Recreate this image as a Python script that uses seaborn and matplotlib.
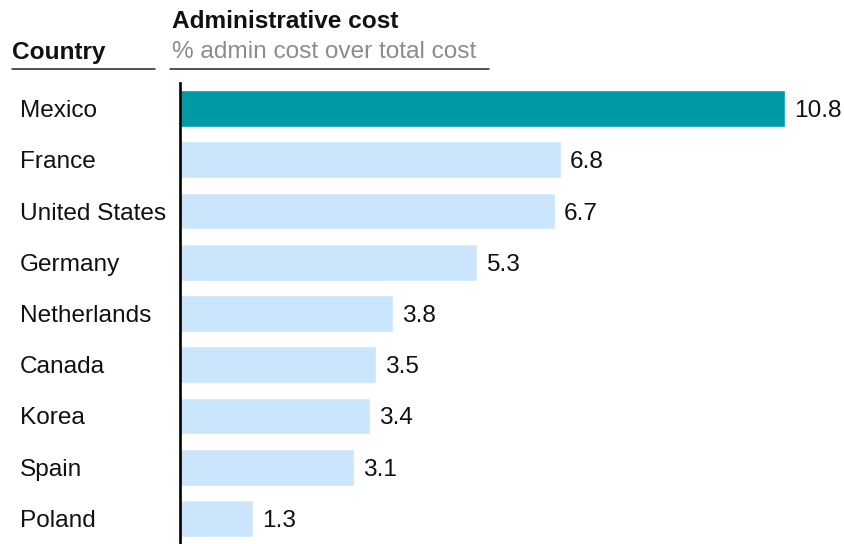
import matplotlib
matplotlib.use("Agg")
import matplotlib.pyplot as plt
import seaborn as sns
import pandas as pd
from matplotlib.lines import Line2D

countries = ["Mexico", "France", "United States", "Germany", "Netherlands",
             "Canada", "Korea", "Spain", "Poland"]
values = [10.8, 6.8, 6.7, 5.3, 3.8, 3.5, 3.4, 3.1, 1.3]
highlight = ["Mexico"]

title = "Administrative cost"
subtitle = "% admin cost over total cost"
cat_header = "Country"

TEAL = "#0099A6"
LIGHT = "#CBE5FC"
GRAY = "#8C8C8C"
FS = 17.6

sns.set_theme(style="white")
plt.rcParams["font.family"] = ["Liberation Sans", "DejaVu Sans"]

df = pd.DataFrame({"country": countries, "value": values})
df["group"] = ["hi" if c in highlight else "lo" for c in countries]

W, H = 844, 544
fig = plt.figure(figsize=(W / 100, H / 100), dpi=100)
ax = fig.add_axes([180 / W, 0, (840 - 180) / W, (544 - 83) / H])

sns.barplot(data=df, x="value", y="country", hue="group",
            palette={"hi": TEAL, "lo": LIGHT}, dodge=False, legend=False,
            width=0.72, saturation=1, ax=ax, order=countries)

ax.set_xlim(0, (840 - 180) / 56.0)
ax.set_ylim(len(countries) - 0.5, -0.5)

for c in ax.containers:
    texts = ax.bar_label(c, fmt="%.1f", padding=6.5, fontsize=FS, color="#111111")
    for t in texts:
        t.set_verticalalignment("center_baseline")

ax.set_xlabel("")
ax.set_ylabel("")
ax.set_xticks([])
ax.tick_params(axis="y", length=0, pad=115.2, labelsize=FS, labelcolor="#111111")
for lbl in ax.get_yticklabels():
    lbl.set_horizontalalignment("left")

for s in ["top", "right", "bottom"]:
    ax.spines[s].set_visible(False)
ax.spines["left"].set_color("black")
ax.spines["left"].set_linewidth(1.9)
ax.set_facecolor("white")

def fx(px):
    return px / W

def fy(py):
    return 1 - py / H

fig.text(fx(12), fy(52), cat_header, fontsize=FS, fontweight="bold",
         color="#111111", va="center", ha="left")
fig.text(fx(172), fy(21), title, fontsize=FS, fontweight="bold",
         color="#111111", va="center", ha="left")
fig.text(fx(172), fy(52), subtitle, fontsize=FS, color=GRAY,
         va="center", ha="left")

fig.add_artist(Line2D([fx(12), fx(155)], [fy(69.5), fy(69.5)],
                      color="#222222", linewidth=1.1))
fig.add_artist(Line2D([fx(170), fx(489)], [fy(69.5), fy(69.5)],
                      color="#222222", linewidth=1.1))

fig.savefig("out.png", dpi=100, facecolor="white")
